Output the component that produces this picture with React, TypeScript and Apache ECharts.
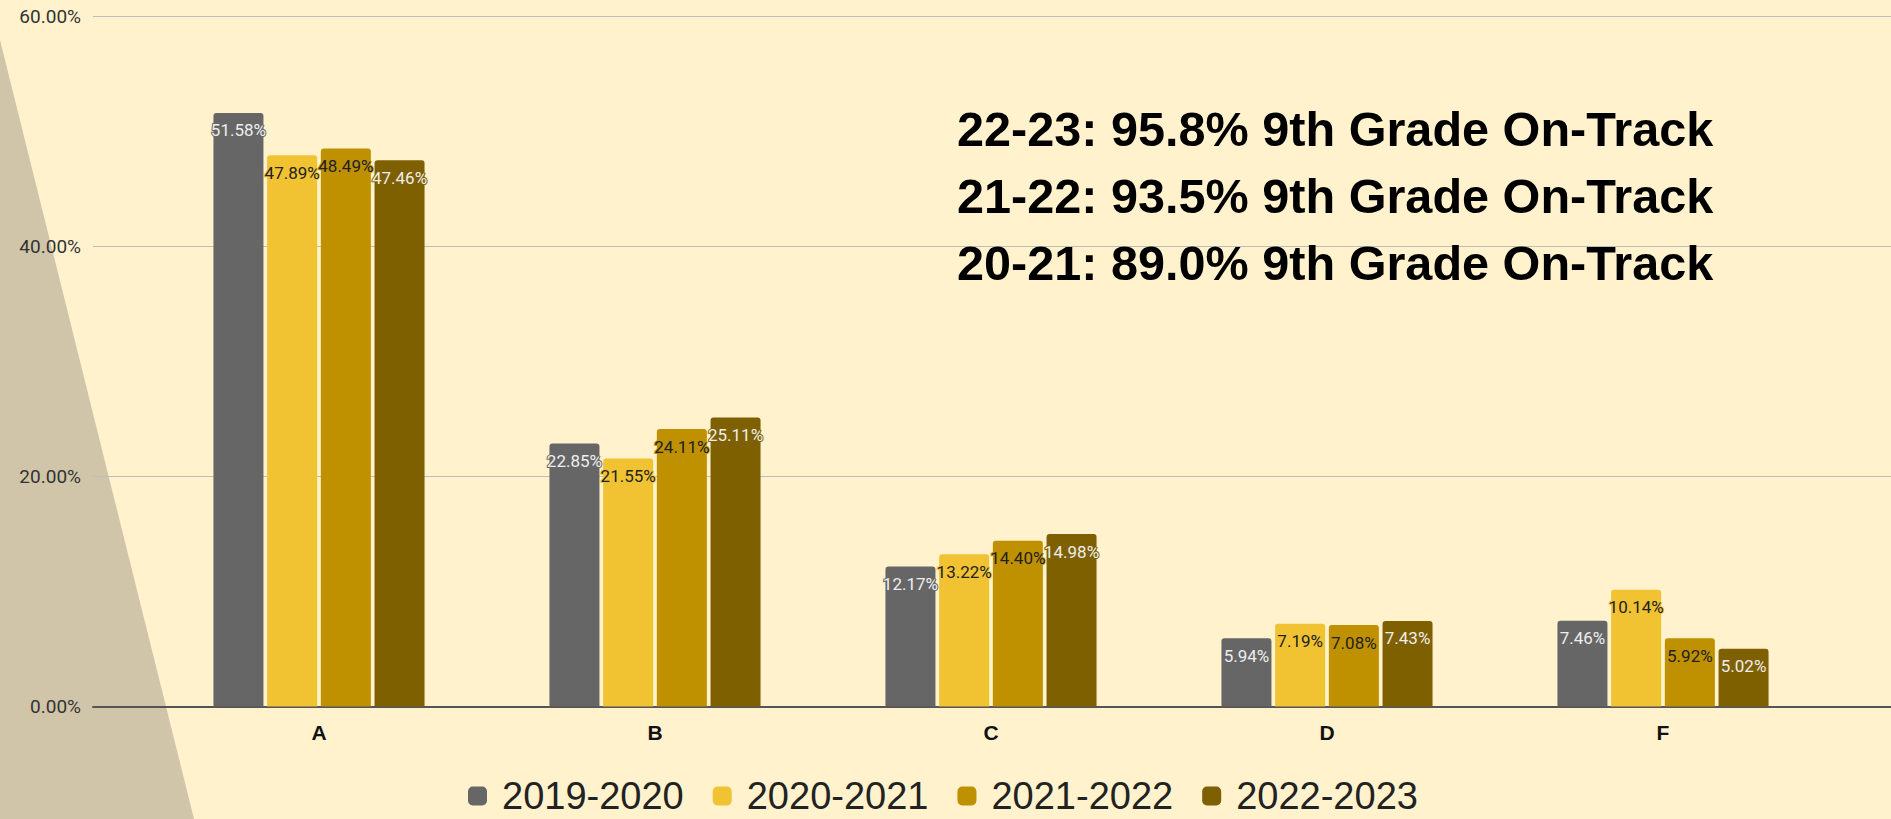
import React, { useEffect, useRef } from "react";
import * as echarts from "echarts";

const categories = ["A", "B", "C", "D", "F"];
const seriesNames = ["2019-2020", "2020-2021", "2021-2022", "2022-2023"];
const s2019 = [51.58, 22.85, 12.17, 5.94, 7.46];
const s2020 = [47.89, 21.55, 13.22, 7.19, 10.14];
const s2021 = [48.49, 24.11, 14.4, 7.08, 5.92];
const s2022 = [47.46, 25.11, 14.98, 7.43, 5.02];
const seriesValues = [s2019, s2020, s2021, s2022];
const colors = ["#666666", "#F1C232", "#BF9000", "#7F6000"];
const labelColors = ["#EEEEEE", "#222222", "#222222", "#EEEEEE"];
const annotations = [
  "22-23: 95.8% 9th Grade On-Track",
  "21-22: 93.5% 9th Grade On-Track",
  "20-21: 89.0% 9th Grade On-Track",
];

export default function App() {
  const ref = useRef<HTMLDivElement>(null);
  useEffect(() => {
    if (!ref.current) return;
    const chart = echarts.init(ref.current, undefined, { renderer: "svg" });
    const series = seriesNames.map((name, i) => ({
      name,
      type: "bar",
      xAxisIndex: 0,
      yAxisIndex: 0,
      data: seriesValues[i],
      barWidth: 50,
      barGap: "7.4%",
      itemStyle: { color: colors[i], borderRadius: [3, 3, 0, 0] },
      label: {
        show: true,
        position: "insideTop",
        distance: 9,
        formatter: (p: any) => p.value.toFixed(2) + "%",
        fontSize: 17,
        fontFamily: "Roboto",
        color: labelColors[i],
        textBorderColor: colors[i],
        textBorderWidth: 2,
      },
    }));
    const option = {
      animation: false,
      backgroundColor: "#FFF2CC",
      graphic: [
        {
          type: "polygon",
          z: -10,
          silent: true,
          shape: { points: [[0, 40], [194, 819], [0, 819]] },
          style: { fill: "#D0C5A8" },
        },
        ...annotations.map((t, i) => ({
          type: "text",
          left: 957,
          top: 128 + i * 67.2 - 24,
          z: 10,
          style: {
            text: t,
            fontFamily: "Liberation Sans",
            fontWeight: "bold",
            fontSize: 48.6,
            fill: "#000000",
          },
        })),
      ],
      grid: [
        { left: 151, right: 60, top: 16, bottom: 112.5 },
        { left: 93, right: 0, top: 16, bottom: 112.5 },
      ],
      legend: {
        data: seriesNames,
        left: 468,
        top: 777,
        padding: 0,
        icon: "roundRect",
        itemWidth: 19,
        itemHeight: 19,
        itemGap: 29,
        textStyle: {
          fontSize: 38,
          lineHeight: 38,
          fontFamily: "Liberation Sans",
          color: "#222222",
          padding: [0, 0, 0, 10],
        },
      },
      xAxis: [
        {
          type: "category",
          gridIndex: 0,
          data: categories,
          axisLine: { show: false },
          axisTick: { show: false },
          axisLabel: {
            fontFamily: "Liberation Sans",
            fontWeight: "bold",
            fontSize: 21,
            color: "#111111",
            margin: 15,
          },
        },
        {
          type: "value",
          gridIndex: 1,
          min: 0,
          max: 1,
          axisLabel: { show: false },
          splitLine: { show: false },
          axisTick: { show: false },
          axisLine: { show: true, lineStyle: { color: "#555555", width: 2 } },
        },
      ],
      yAxis: [
        { type: "value", gridIndex: 0, min: 0, max: 60, show: false },
        {
          type: "value",
          gridIndex: 1,
          min: 0,
          max: 60,
          interval: 20,
          axisLine: { show: false },
          axisTick: { show: false },
          axisLabel: {
            formatter: (v: number) => v.toFixed(2) + "%",
            margin: 12,
            fontSize: 19,
            fontFamily: "Roboto",
            color: "#333333",
          },
          splitLine: { lineStyle: { color: "#BDBDBD", width: 1 } },
        },
      ],
      series,
    };
    chart.setOption(option as any);
    return () => chart.dispose();
  }, []);
  return (
    <div
      ref={ref}
      style={{ position: "fixed", left: 0, top: 0, width: 1891, height: 819 }}
    />
  );
}
